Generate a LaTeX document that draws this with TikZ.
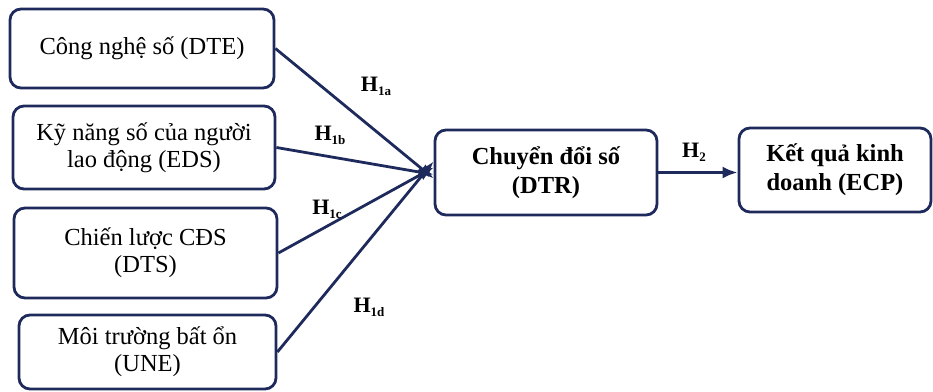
\documentclass[tikz,border=0pt]{standalone}
\usepackage{fontspec}
\setmainfont{Liberation Serif}
\usetikzlibrary{arrows.meta}
\definecolor{navy}{HTML}{1F2A5C}
\begin{document}
\begin{tikzpicture}[x=1pt,y=-1pt,
  box/.style={draw=navy,line width=2.8pt,rounded corners=11pt,inner sep=0pt,align=center,
    font=\fontsize{24.5}{27}\selectfont},
  conn/.style={draw=navy,line width=2.8pt,-{Latex[length=15pt,width=12pt]}},
  hlab/.style={font=\fontsize{22}{22}\selectfont\bfseries,inner sep=0pt}]
\useasboundingbox (0,0) rectangle (933,391);
\node[box,minimum width=264pt,minimum height=79pt] (dte) at (142,48.5) {Công nghệ số (DTE)};
\node[box,minimum width=262pt,minimum height=83pt] (eds) at (144,147.5) {Kỹ năng số của người\\lao động (EDS)};
\node[box,minimum width=263pt,minimum height=90pt] (dts) at (145.5,253) {Chiến lược CĐS\\(DTS)};
\node[box,minimum width=257pt,minimum height=74pt] (une) at (147.5,352) {Môi trường bất ổn\\(UNE)};
\node[box,font=\fontsize{24.5}{29}\selectfont\bfseries,minimum width=222pt,minimum height=85pt] (dtr) at (546,172.5) {Chuyển đổi số\\(DTR)};
\node[box,font=\fontsize{24.5}{29}\selectfont\bfseries,minimum width=192pt,minimum height=84pt] (ecp) at (835,170) {Kết quả kinh\\doanh (ECP)};
\coordinate (t1) at ([yshift=-6pt]dtr.west);
\coordinate (t2) at ([yshift=-2pt]dtr.west);
\coordinate (t3) at ([yshift=5pt]dtr.west);
\coordinate (t4) at ([yshift=11pt]dtr.west);
\draw[conn] (dte.east) -- (t1);
\draw[conn] (eds.east) -- (t2);
\draw[conn] (dts.east) -- (t3);
\draw[conn] (une.east) -- (t4);
\draw[conn] (dtr.east) -- (ecp.west |- dtr.east);
\node[hlab] (h1a) at (376,86) {H\raisebox{-0.4ex}{\fontsize{13}{13}\selectfont 1a}};
\node[hlab] (h1b) at (330,135) {H\raisebox{-0.4ex}{\fontsize{13}{13}\selectfont 1b}};
\node[hlab] (h1c) at (327,209) {H\raisebox{-0.4ex}{\fontsize{13}{13}\selectfont 1c}};
\node[hlab] (h1d) at (369,307) {H\raisebox{-0.4ex}{\fontsize{13}{13}\selectfont 1d}};
\node[hlab] (h2) at (694,152) {H\raisebox{-0.4ex}{\fontsize{13}{13}\selectfont 2}};
\end{tikzpicture}
\end{document}
